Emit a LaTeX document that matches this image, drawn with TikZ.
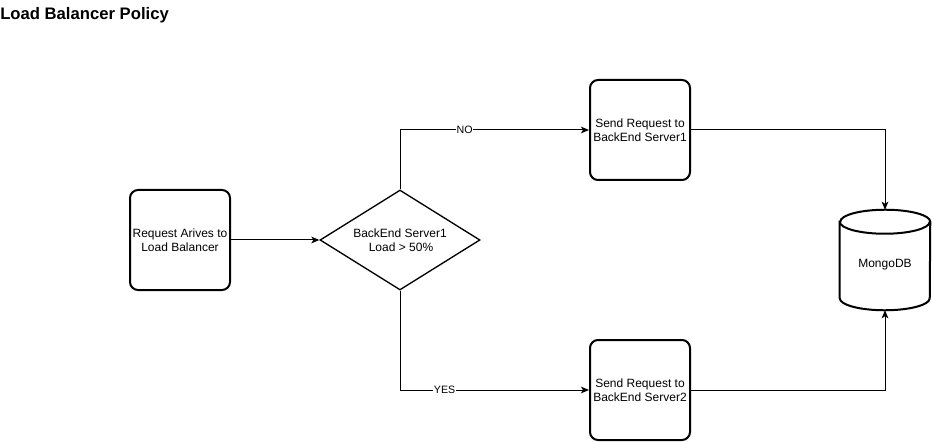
\documentclass[tikz,border=0pt]{standalone}
\usepackage{fontspec}
\setmainfont{Liberation Sans}
\usetikzlibrary{shapes.geometric,arrows.meta}
\begin{document}
\begin{tikzpicture}[x=0.75pt,y=-0.75pt,
  font=\fontsize{9}{10.5}\selectfont,
  box/.style={draw, line width=1.5pt, rounded corners=6pt, minimum width=75pt, minimum height=75pt, align=center, inner sep=1pt},
  dec/.style={draw, shape=diamond, line width=1pt, minimum width=120pt, minimum height=75pt, aspect=1.6, inner sep=0pt, align=center},
  conn/.style={line width=0.75pt, -{Stealth[length=6pt,width=5pt,inset=1.5pt]}},
  lab/.style={fill=white, inner sep=0.5pt, font=\fontsize{8}{9}\selectfont}
]
\useasboundingbox (0,0) rectangle (932,442);
\node[anchor=west, font=\bfseries\fontsize{12.5}{14}\selectfont, inner sep=0pt] (title) at (0,15) {Load Balancer Policy};

\node[box] (req) at (180,240) {Request Arives to\\Load Balancer};
\node[dec] (cond) at (400,240) {BackEnd Server1\\\,Load > 50\%};
\node[box] (s1) at (640,130) {Send Request to\\BackEnd Server1};
\node[box] (s2) at (640,390) {Send Request to\\BackEnd Server2};
\node[minimum width=67.5pt, minimum height=75pt, inner sep=0pt] (db) at (885,260) {\raisebox{-3.5pt}[\height][\depth]{MongoDB}};
\draw[line width=1.5pt] ([yshift=-9pt]db.north west) -- ([yshift=9pt]db.south west)
  arc[start angle=180, end angle=360, x radius=33.75pt, y radius=9pt]
  -- ([yshift=-9pt]db.north east)
  arc[start angle=0, end angle=180, x radius=33.75pt, y radius=9pt] -- cycle;
\draw[line width=1.5pt] ([yshift=-9pt]db.north west)
  arc[start angle=180, end angle=360, x radius=33.75pt, y radius=9pt];

\draw[conn] (req) -- (cond);
\draw[conn] (cond.north) |- node[lab, pos=0.671] {NO} (s1.west);
\draw[conn] (cond.south) |- node[lab, pos=0.618] {YES} (s2.west);
\draw[conn] (s1.east) -| (db.north);
\draw[conn] (s2.east) -| (db.south);
\end{tikzpicture}
\end{document}
